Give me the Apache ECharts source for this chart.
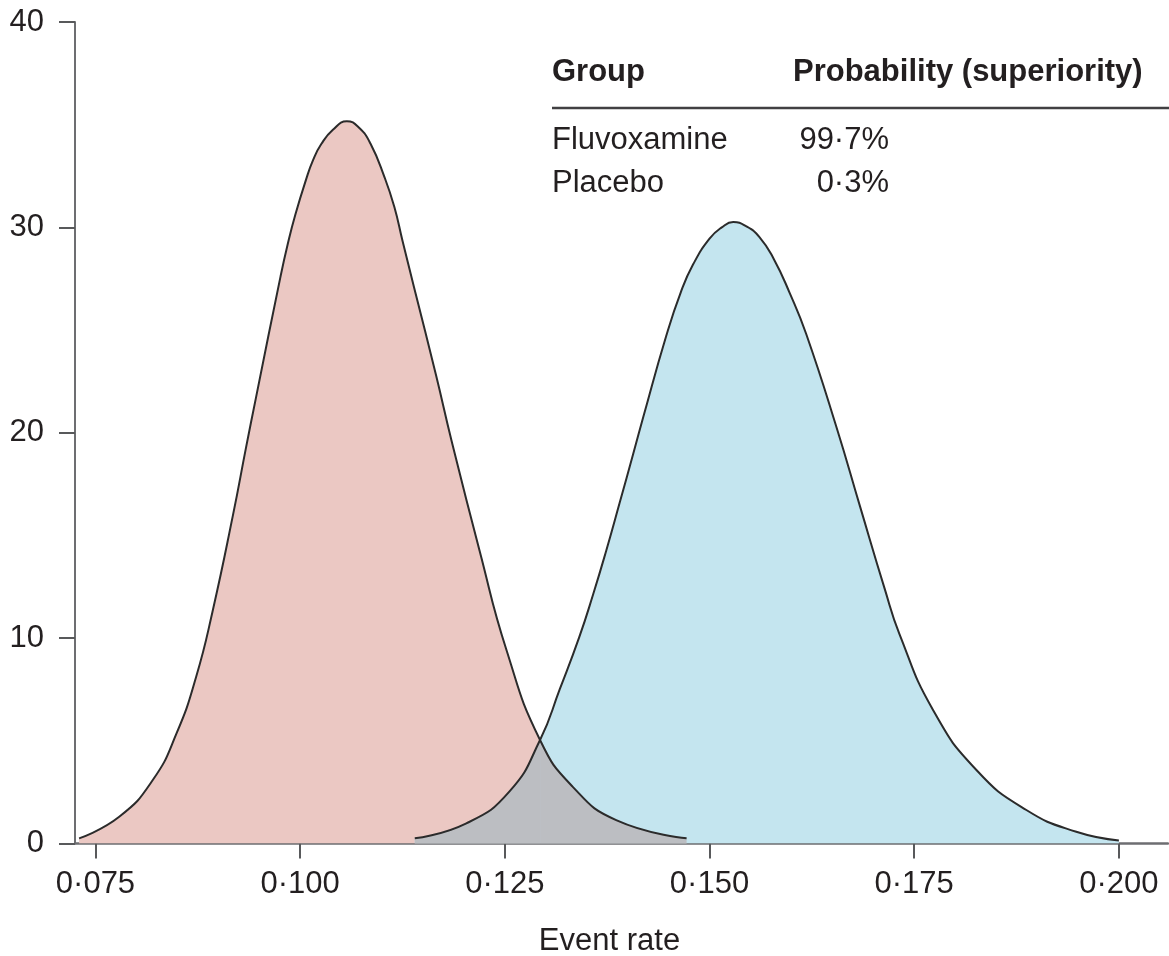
<!DOCTYPE html>
<html>
<head>
<meta charset="utf-8">
<script src="https://cdn.jsdelivr.net/npm/echarts@6/dist/echarts.min.js"></script>
<style>
html,body{margin:0;padding:0;background:#ffffff;}
#chart{width:1169px;height:956px;}
</style>
</head>
<body>
<div id="chart"></div>
<script>
// ---- data ----
const xTickValues = [0.075, 0.100, 0.125, 0.150, 0.175, 0.200];
const yTickInterval = 10;

const fluvoxamineRate = [0.0730,0.0779,0.0820,0.0849,0.0873,0.0893,0.0918,0.0934,0.0946,0.0976,0.0985,0.0994,0.1007,0.1016,0.1026,0.1040,0.1057,0.1072,0.1086,0.1103,0.1115,0.1125,0.1139,0.1166,0.1185,0.1219,0.1252,0.1293,0.1333,0.1386,0.1472];
const fluvoxamineDensity = [0.25,1.30,3.09,5.36,8.12,11.30,16.00,19.30,21.70,27.60,29.21,30.60,32.30,33.30,34.07,34.75,35.17,34.85,34.07,32.45,31.00,29.35,27.10,22.80,19.60,14.28,9.42,5.04,2.76,1.14,0.25];

const placeboRate = [0.1140,0.1203,0.1256,0.1293,0.1317,0.1341,0.1358,0.1374,0.1390,0.1407,0.1419,0.1447,0.1465,0.1480,0.1500,0.1515,0.1529,0.1545,0.1561,0.1578,0.1598,0.1618,0.1655,0.1684,0.1714,0.1732,0.1773,0.1826,0.1887,0.1948,0.2000];
const placeboDensity = [0.25,0.98,2.55,5.04,7.50,10.06,12.15,14.28,16.55,19.00,20.75,24.70,26.85,28.20,29.45,30.00,30.26,30.05,29.53,28.50,26.80,24.82,20.28,16.39,12.40,10.20,6.50,3.58,1.63,0.57,0.15];

const crossingRate = 0.1293;   // where the two curves meet

const tableHeader = ['Group', 'Probability (superiority)'];
const tableGroups = ['Fluvoxamine', 'Placebo'];
const tableProbabilities = ['99·7%', '0·3%'];

// ---- build series data ----
const pair = (xs, ys) => xs.map((x, i) => [x, ys[i]]);
const fluvoxamineData = pair(fluvoxamineRate, fluvoxamineDensity);
const placeboData = pair(placeboRate, placeboDensity);
// overlap region: under the placebo curve up to the crossing, then under the fluvoxamine curve
const overlapLeft = placeboData.filter(p => p[0] <= crossingRate);
const overlapRight = fluvoxamineData.filter(p => p[0] >= crossingRate);

const FONT = '"Liberation Sans", Arial, "DejaVu Sans", sans-serif';
const TEXT = '#231f20';
const AXIS = '#6d6e71';
const CURVE = '#2b2b2b';
const GREY = '#bcbec2';

const chart = echarts.init(document.getElementById('chart'), null, {renderer: 'canvas'});

const areaSeries = (name, data, color, z) => ({
  name, type: 'line', data, z,
  smooth: 0.5, symbol: 'none',
  lineStyle: {width: 0, opacity: 0},
  areaStyle: {color: color, opacity: 1},
  silent: true
});
const lineSeries = (name, data, z) => ({
  name, type: 'line', data, z,
  smooth: 0.5, symbol: 'none',
  lineStyle: {width: 2, color: CURVE},
  silent: true
});

const rowY = [143.5, 186.5];

chart.setOption({
  animation: false,
  backgroundColor: '#ffffff',
  grid: {left: 75, right: 1, top: 22, bottom: 112.5, containLabel: false, outerBoundsMode: 'none'},
  xAxis: {
    type: 'value',
    min: 0.0725, max: 0.2060,
    axisLine: {show: true, onZero: true, lineStyle: {color: AXIS, width: 2.5}},
    axisTick: {show: true, customValues: xTickValues, length: 15, inside: false, lineStyle: {color: '#58595b', width: 2}},
    axisLabel: {
      customValues: xTickValues,
      formatter: v => v.toFixed(3).replace('.', '·'),
      margin: 25, fontSize: 31, color: TEXT, fontFamily: FONT
    },
    splitLine: {show: false},
    name: 'Event rate', nameLocation: 'middle', nameGap: 82,
    nameTextStyle: {fontSize: 31, color: TEXT, fontFamily: FONT, padding: [0, 24, 0, 0]}
  },
  yAxis: {
    type: 'value', min: 0, max: 40, interval: yTickInterval,
    axisLine: {show: true, lineStyle: {color: AXIS, width: 2}},
    axisTick: {show: true, length: 16, inside: false, lineStyle: {color: '#58595b', width: 2}},
    axisLabel: {margin: 31, fontSize: 31, color: TEXT, fontFamily: FONT},
    splitLine: {show: false}
  },
  series: [
    areaSeries('Fluvoxamine area', fluvoxamineData, '#ebc8c3', 1),
    areaSeries('Placebo area', placeboData, '#c4e5ef', 2),
    areaSeries('Overlap (placebo side)', overlapLeft, GREY, 3),
    areaSeries('Overlap (fluvoxamine side)', overlapRight, GREY, 3),
    lineSeries('Fluvoxamine', fluvoxamineData, 4),
    lineSeries('Placebo', placeboData, 4)
  ],
  graphic: [
    {type: 'text', left: 552, top: 75.5 - 19, style: {text: tableHeader[0], font: 'bold 31px ' + FONT, fill: TEXT}},
    {type: 'text', left: 793, top: 75.5 - 19, style: {text: tableHeader[1], font: 'bold 31px ' + FONT, fill: TEXT}},
    {type: 'line', shape: {x1: 552, y1: 108, x2: 1169, y2: 108}, style: {stroke: '#414042', lineWidth: 2.5}},
    {type: 'text', left: 552, top: rowY[0] - 19, style: {text: tableGroups[0], font: '31px ' + FONT, fill: TEXT}},
    {type: 'text', left: 552, top: rowY[1] - 19, style: {text: tableGroups[1], font: '31px ' + FONT, fill: TEXT}},
    {type: 'text', right: 1169 - 889, top: rowY[0] - 19, style: {text: tableProbabilities[0], font: '31px ' + FONT, fill: TEXT}},
    {type: 'text', right: 1169 - 889, top: rowY[1] - 19, style: {text: tableProbabilities[1], font: '31px ' + FONT, fill: TEXT}}
  ]
});
</script>
</body>
</html>
